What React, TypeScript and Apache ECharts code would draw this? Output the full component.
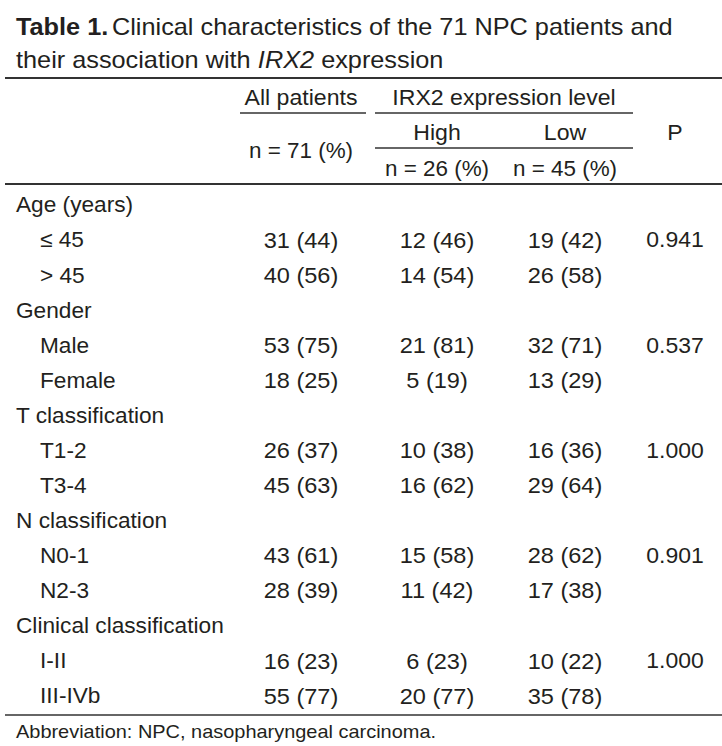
import React, { useEffect, useRef } from "react";
import * as echarts from "echarts";

const groups = ["Age (years)", "Gender", "T classification", "N classification", "Clinical classification"];
const subLabels = [["≤ 45", "> 45"], ["Male", "Female"], ["T1-2", "T3-4"], ["N0-1", "N2-3"], ["I-II", "III-IVb"]];
const allN = [[31, 40], [53, 18], [26, 45], [43, 28], [16, 55]];
const allPct = [[44, 56], [75, 25], [37, 63], [61, 39], [23, 77]];
const highN = [[12, 14], [21, 5], [10, 16], [15, 11], [6, 20]];
const highPct = [[46, 54], [81, 19], [38, 62], [58, 42], [23, 77]];
const lowN = [[19, 26], [32, 13], [16, 29], [28, 17], [10, 35]];
const lowPct = [[42, 58], [71, 29], [36, 64], [62, 38], [22, 78]];
const pValues = ["0.941", "0.537", "1.000", "0.901", "1.000"];

const FONT = "'Liberation Sans', Arial, sans-serif";
const COLOR = "#231f20";
const LINE = "#333333";

function txt(x: number, y: number, text: string, align: string = "left", size = 22, sx = 1.03) {
  return {
    type: "text",
    x,
    y,
    scaleX: sx,
    silent: true,
    style: {
      text,
      fill: COLOR,
      font: `${size}px ${FONT}`,
      align,
      verticalAlign: "middle",
    },
  };
}

function hline(x1: number, x2: number, y: number, w: number) {
  return {
    type: "line",
    silent: true,
    shape: { x1, y1: y, x2, y2: y },
    style: { stroke: LINE, lineWidth: w },
  };
}

export default function App() {
  const ref = useRef<HTMLDivElement>(null);
  useEffect(() => {
    document.body.style.margin = "0";
    const chart = echarts.init(ref.current!, null, { renderer: "svg" });
    const els: any[] = [];
    // title
    els.push({
      type: "text",
      x: 16,
      y: 27,
      scaleX: 1.1,
      silent: true,
      style: {
        text: "{b|Table 1.} {n|Clinical characteristics of the 71 NPC patients and}",
        verticalAlign: "middle",
        rich: {
          b: { font: `bold 23px ${FONT}`, fill: COLOR },
          n: { font: `23px ${FONT}`, fill: COLOR },
        },
      },
    });
    els.push({
      type: "text",
      x: 16,
      y: 60,
      scaleX: 1.1,
      silent: true,
      style: {
        text: "{n|their association with }{i|IRX2}{n| expression}",
        verticalAlign: "middle",
        rich: {
          i: { font: `italic 23px ${FONT}`, fill: COLOR },
          n: { font: `23px ${FONT}`, fill: COLOR },
        },
      },
    });
    els.push(hline(5, 722, 78, 2));
    // header
    const cAll = 301, cHigh = 437, cLow = 565, cP = 675;
    const NS = 1.07;
    els.push(txt(cAll, 98, "All patients", "center", 22, 1.05));
    els.push(hline(240, 366, 113, 1.5));
    els.push(txt(504, 98, "IRX2 expression level", "center", 22, 1.05));
    els.push(hline(375, 633, 113, 1.5));
    els.push(txt(cHigh, 133, "High", "center", 22, 1.05));
    els.push(txt(cLow, 133, "Low", "center", 22, 1.05));
    els.push(txt(cP, 133, "P", "center", 22, 1.05));
    els.push(hline(375, 633, 148, 1.5));
    els.push(txt(cAll, 151, "n = 71 (%)", "center", 22, 1.02));
    els.push(txt(cHigh, 169, "n = 26 (%)", "center", 22, 1.02));
    els.push(txt(cLow, 169, "n = 45 (%)", "center", 22, 1.02));
    els.push(hline(5, 722, 184, 2));
    // body
    const y0 = 205, step = 35.07;
    let r = 0;
    groups.forEach((g, gi) => {
      els.push(txt(16, y0 + step * r, g));
      r++;
      subLabels[gi].forEach((s, si) => {
        const y = y0 + step * r;
        els.push(txt(40, y, s));
        els.push(txt(cAll, y, `${allN[gi][si]} (${allPct[gi][si]})`, "center", 22, NS));
        els.push(txt(cHigh, y, `${highN[gi][si]} (${highPct[gi][si]})`, "center", 22, NS));
        els.push(txt(cLow, y, `${lowN[gi][si]} (${lowPct[gi][si]})`, "center", 22, NS));
        if (si === 0) els.push(txt(cP, y, pValues[gi], "center", 22, 1.045));
        r++;
      });
    });
    els.push(hline(5, 722, 715, 1.5));
    els.push(txt(16, 731, "Abbreviation: NPC, nasopharyngeal carcinoma.", "left", 19, 1.05));
    chart.setOption({ animation: false, graphic: { elements: els } });
    return () => chart.dispose();
  }, []);
  return <div ref={ref} style={{ width: 722, height: 746, background: "#fff" }} />;
}
